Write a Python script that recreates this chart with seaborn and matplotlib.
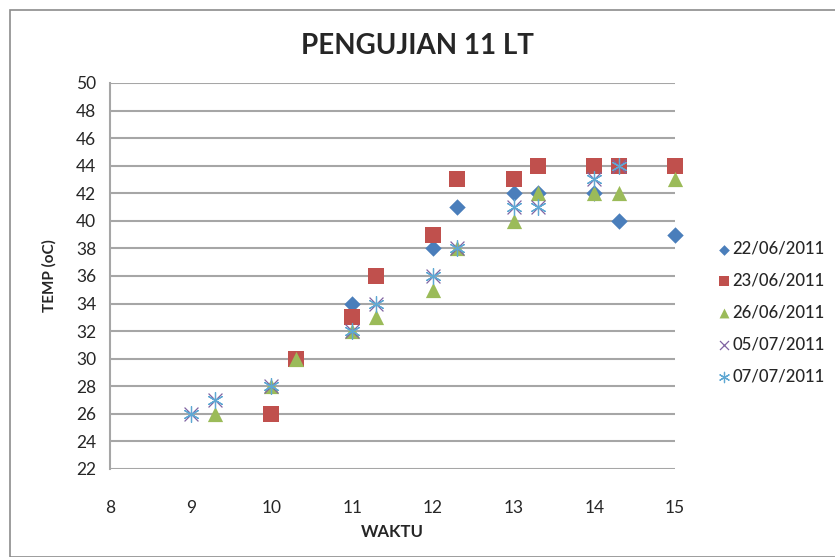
import numpy as np
import pandas as pd
import matplotlib.pyplot as plt
import seaborn as sns

# data (x = WAKTU, y = TEMP)
x_2206 = [11, 12, 12.3, 13, 13.3, 14, 14.3, 15]
y_2206 = [34, 38, 41, 42, 42, 42, 40, 39]

x_2306 = [10, 10.3, 11, 11.3, 12, 12.3, 13, 13.3, 14, 14.3, 15]
y_2306 = [26, 30, 33, 36, 39, 43, 43, 44, 44, 44, 44]

x_2606 = [9.3, 10, 10.3, 11, 11.3, 12, 12.3, 13, 13.3, 14, 14.3, 15]
y_2606 = [26, 28, 30, 32, 33, 35, 38, 40, 42, 42, 42, 43]

x_0507 = [9, 9.3, 10, 11, 11.3, 12, 12.3, 13, 13.3, 14, 14.3]
y_0507 = [26, 27, 28, 32, 34, 36, 38, 41, 41, 43, 44]

x_0707 = [9, 9.3, 10, 11, 11.3, 12, 12.3, 13, 13.3, 14, 14.3]
y_0707 = [26, 27, 28, 32, 34, 36, 38, 41, 41, 43, 44]

labels = ["22/06/2011", "23/06/2011", "26/06/2011", "05/07/2011", "07/07/2011"]
xs = [x_2206, x_2306, x_2606, x_0507, x_0707]
ys = [y_2206, y_2306, y_2606, y_0507, y_0707]
colors = ["#4a7ebb", "#c0504d", "#9bbb59", "#8064a2", "#5fa8d3"]
markers = ["D", "s", "^", "x", (6, 2, 0)]
sizes = [70, 120, 120, 100, 130]

sns.set_theme(style="white")
plt.rcParams["font.family"] = ["Lato", "DejaVu Sans"]

fig = plt.figure(figsize=(8.35, 5.57), dpi=100)
ax = fig.add_axes([0.1317, 0.158, 0.6767, 0.693])

for xv, yv, lab, c, m, s in zip(xs, ys, labels, colors, markers, sizes):
    df = pd.DataFrame({"WAKTU": xv, "TEMP": yv})
    sns.scatterplot(data=df, x="WAKTU", y="TEMP", ax=ax, color=c, marker=m,
                    s=s, label=lab, linewidth=0.9 if m in ("x", (6, 2, 0)) else 0,
                    zorder=3, clip_on=False)

ax.set_xlim(8, 15)
ax.set_ylim(22, 50)
ax.set_xticks(range(8, 16))
ax.set_yticks(range(22, 51, 2))
ax.yaxis.grid(True, color="#a6a6a6", linewidth=1.5)
ax.xaxis.grid(False)
for side in ["top", "right", "bottom"]:
    ax.spines[side].set_visible(False)
ax.spines["left"].set_color("#a6a6a6")
ax.spines["left"].set_linewidth(1.5)
ax.tick_params(axis="both", labelsize=12.5, length=0, pad=10)
ax.tick_params(axis="x", pad=22)

ax.set_xlabel("WAKTU", fontsize=12, fontweight="bold", labelpad=6)
ax.set_ylabel("TEMP (oC)", fontsize=11, fontweight="bold", labelpad=14)
fig.suptitle("PENGUJIAN 11 LT", fontsize=20, fontweight="bold", y=0.94)

leg = ax.legend(loc="center left", bbox_to_anchor=(1.045, 0.405), frameon=False,
                prop={"size": 12, "weight": "medium"}, handletextpad=0.0,
                labelspacing=0.95, handlelength=1.0, markerscale=0.65)

# outer chart border
fig.patches.append(plt.Rectangle((10 / 835, 0), 1.1, 1 - 10 / 557, transform=fig.transFigure,
                                 fill=False, edgecolor="#8c8c8c", linewidth=1.2))

fig.savefig("out.png", dpi=100)
